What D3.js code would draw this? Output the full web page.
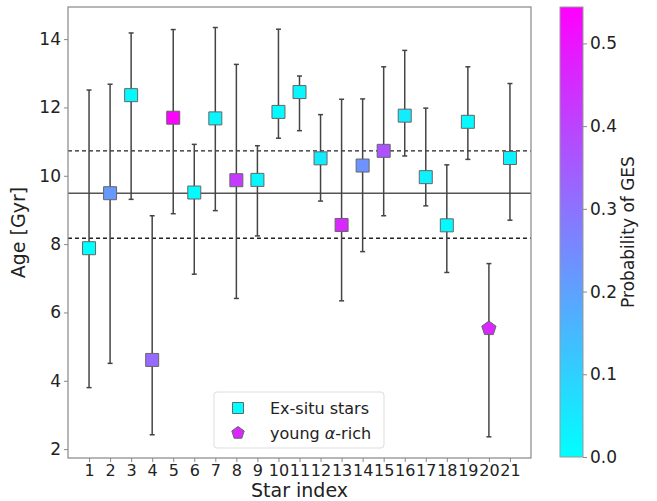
<!DOCTYPE html>
<html>
<head>
<meta charset="utf-8">
<script src="https://cdn.jsdelivr.net/npm/d3@7"></script>
<style>
  body { margin: 0; background: #fff; }
  text { font-family: "DejaVu Sans", sans-serif; fill: #222; }
</style>
</head>
<body>
<div id="chart-area"></div>
<script>
// star ages with upper/lower error bounds (Gyr) and probability of GES
const stars = d3.range(1, 22);
const age   = [7.88, 9.49, 12.36, 4.61, 11.70, 9.51, 11.68, 9.87, 9.88, 11.87, 12.45, 10.51, 8.56, 10.30, 10.73, 11.76, 9.96, 8.55, 11.58, 5.53, 10.52];
const ageHi = [12.51, 12.68, 14.18, 8.83, 14.28, 10.92, 14.34, 13.26, 10.88, 14.29, 12.92, 11.79, 12.24, 12.25, 13.19, 13.67, 11.98, 10.32, 13.19, 7.43, 12.70];
const ageLo = [3.80, 4.51, 9.31, 2.42, 8.89, 7.12, 8.98, 6.41, 8.24, 11.10, 11.32, 9.26, 6.34, 7.78, 8.83, 10.58, 9.12, 7.17, 10.48, 2.36, 8.70];
const probGES = [0.0, 0.22, 0.01, 0.32, 0.54, 0.01, 0.02, 0.42, 0.02, 0.01, 0.02, 0.04, 0.46, 0.23, 0.37, 0.04, 0.03, 0.01, 0.01, 0.46, 0.03];
const group = stars.map(s => s === 20 ? 'young' : 'exsitu');
const refLines = [{v: 9.49, dash: null}, {v: 10.73, dash: '4,3'}, {v: 8.17, dash: '4,3'}];
const yTicks = [2, 4, 6, 8, 10, 12, 14];
const cbTicks = [0, 0.1, 0.2, 0.3, 0.4, 0.5];

const W = 657, H = 501;
const margin = {left: 68, top: 7, right: 126, bottom: 43};
const width = W - margin.left - margin.right;
const height = H - margin.top - margin.bottom;

const data = stars.map((s, i) => ({s, age: age[i], hi: ageHi[i], lo: ageLo[i], p: probGES[i], g: group[i]}));

const svg = d3.select('#chart-area').append('svg')
    .attr('width', W)
    .attr('height', H);

const g = svg.append('g')
    .attr('transform', 'translate(' + margin.left + ',' + margin.top + ')');

const x = d3.scaleLinear().domain([0, 22]).range([0, width]);
const y = d3.scaleLinear().domain([1.74, 14.94]).range([height, 0]);
const pMax = 0.544;
const color = t => d3.rgb(255 * t / pMax, 255 * (1 - t / pMax), 255).formatHex();

// reference lines
g.selectAll('.ref').data(refLines).enter().append('line')
    .attr('x1', 0).attr('x2', width)
    .attr('y1', d => y(d.v)).attr('y2', d => y(d.v))
    .attr('stroke', d => d.dash ? '#222' : '#555')
    .attr('stroke-width', 1.4)
    .attr('stroke-dasharray', d => d.dash);

// error bars
const eb = g.selectAll('.eb').data(data).enter().append('g').attr('class', 'eb');
eb.append('line')
    .attr('x1', d => x(d.s)).attr('x2', d => x(d.s))
    .attr('y1', d => y(d.hi)).attr('y2', d => y(d.lo))
    .attr('stroke', '#444').attr('stroke-width', 1.5);
eb.selectAll('.cap').data(d => [d.hi, d.lo].map(v => ({s: d.s, v}))).enter().append('line')
    .attr('x1', d => x(d.s) - 2.5).attr('x2', d => x(d.s) + 2.5)
    .attr('y1', d => y(d.v)).attr('y2', d => y(d.v))
    .attr('stroke', '#444').attr('stroke-width', 1.5);

// pentagon path
function pentagon(r) {
    const pts = d3.range(5).map(k => {
        const a = -Math.PI / 2 + k * 2 * Math.PI / 5;
        return [r * Math.cos(a), r * Math.sin(a)];
    });
    return d3.line()(pts) + 'Z';
}
const square = d3.symbol().type(d3.symbolSquare).size(169)();

// markers
g.selectAll('.mk').data(data).enter().append('path')
    .attr('transform', d => 'translate(' + x(d.s) + ',' + y(d.age) + ')')
    .attr('d', d => d.g === 'young' ? pentagon(7.5) : square)
    .attr('fill', d => color(d.p))
    .attr('stroke', '#666')
    .attr('stroke-width', 1);

// frame
g.append('rect')
    .attr('width', width).attr('height', height)
    .attr('fill', 'none').attr('stroke', '#888').attr('stroke-width', 1.2);

// axes
const xAxis = g.append('g')
    .attr('transform', 'translate(0,' + height + ')')
    .call(d3.axisBottom(x).tickValues(stars).tickFormat(d3.format('d')).tickSize(4).tickPadding(3));
xAxis.select('.domain').remove();
xAxis.selectAll('text').attr('font-size', 16).attr('fill', '#222');
xAxis.selectAll('line').attr('stroke', '#888');

const yAxis = g.append('g')
    .call(d3.axisLeft(y).tickValues(yTicks).tickSize(4).tickPadding(3));
yAxis.select('.domain').remove();
yAxis.selectAll('text').attr('font-size', 17).attr('fill', '#222');
yAxis.selectAll('line').attr('stroke', '#888');

g.append('text')
    .attr('x', width / 2).attr('y', height + 39)
    .attr('text-anchor', 'middle').attr('font-size', 19)
    .text('Star index');

g.append('text')
    .attr('transform', 'translate(' + (-43) + ',' + (height / 2) + ') rotate(-90)')
    .attr('text-anchor', 'middle').attr('font-size', 19)
    .text('Age [Gyr]');

// legend
const lg = g.append('g').attr('transform', 'translate(' + (214 - margin.left) + ',' + (392 - margin.top) + ')');
lg.append('rect')
    .attr('width', 170).attr('height', 56).attr('rx', 3)
    .attr('fill', '#fff').attr('stroke', '#ddd');
const legendItems = [
    {parts: [['Ex-situ stars', 'normal']], g: 'exsitu', p: 0.0},
    {parts: [['young ', 'normal'], ['α', 'italic'], ['-rich', 'normal']], g: 'young', p: 0.46}
];
const li = lg.selectAll('.li').data(legendItems).enter().append('g')
    .attr('transform', (d, i) => 'translate(0,' + (16 + i * 25) + ')');
li.append('path')
    .attr('transform', 'translate(24,0)')
    .attr('d', d => d.g === 'young' ? pentagon(6.5) : d3.symbol().type(d3.symbolSquare).size(121)())
    .attr('fill', d => color(d.p))
    .attr('stroke', '#666');
li.append('text')
    .attr('x', 56).attr('y', 6).attr('font-size', 16)
    .selectAll('tspan').data(d => d.parts).enter().append('tspan')
    .attr('font-style', d => d[1])
    .text(d => d[0]);

// colorbar
const cbX = 560, cbW = 23, cbTop = 7, cbBottom = 457;
const defs = svg.append('defs');
const grad = defs.append('linearGradient').attr('id', 'cool')
    .attr('x1', 0).attr('x2', 0).attr('y1', 1).attr('y2', 0);
grad.selectAll('stop').data([0, 1]).enter().append('stop')
    .attr('offset', d => d)
    .attr('stop-color', d => color(d * pMax));
svg.append('rect')
    .attr('x', cbX).attr('y', cbTop).attr('width', cbW).attr('height', cbBottom - cbTop)
    .attr('fill', 'url(#cool)').attr('stroke', '#999').attr('stroke-width', 1);
const cb = d3.scaleLinear().domain([0, pMax]).range([cbBottom, cbTop]);
const cbAxis = svg.append('g')
    .attr('transform', 'translate(' + (cbX + cbW) + ',0)')
    .call(d3.axisRight(cb).tickValues(cbTicks).tickFormat(d3.format('.1f')).tickSize(4).tickPadding(3));
cbAxis.select('.domain').remove();
cbAxis.selectAll('text').attr('font-size', 17).attr('fill', '#222');
cbAxis.selectAll('line').attr('stroke', '#888');

svg.append('text')
    .attr('transform', 'translate(634,' + ((cbTop + cbBottom) / 2) + ') rotate(-90)')
    .attr('text-anchor', 'middle').attr('font-size', 17)
    .text('Probability of GES');
</script>
</body>
</html>
